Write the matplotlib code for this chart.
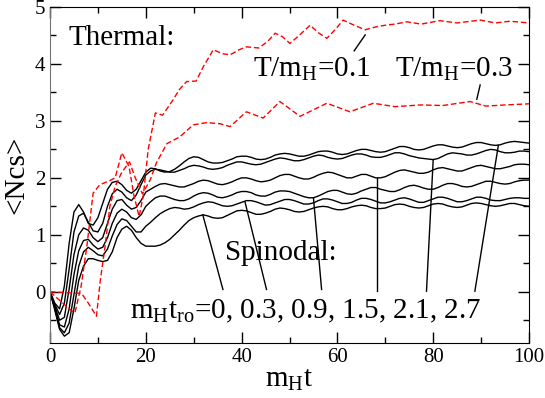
import numpy as np
import matplotlib.pyplot as plt

plt.rcParams['font.family'] = 'Liberation Serif'
plt.rcParams['mathtext.fontset'] = 'custom'
plt.rcParams['mathtext.rm'] = 'Liberation Serif'
plt.rcParams['mathtext.it'] = 'Liberation Serif'

# thermal runs (red dashed)
t_T01 = [0, 2, 4, 5.2, 6.5, 7.7, 9, 10.4, 12.5, 13.6, 15, 16.5, 17.5, 18.6, 19.5, 20.5, 22, 23.5,
         25.7, 27, 28.5, 30.5, 32, 34.1, 36, 37.6, 39.5, 41, 43.6, 45.5, 47, 48.5, 50.1, 52, 54.3,
         56, 57.8, 59.5, 61.2, 63.5, 65.8, 68, 70, 72, 74.5, 77.5, 81.4, 85, 89.8, 93, 96, 100]
N_T01 = [0, -0.15, -0.3, -0.37, 0.1, 0.8, 1.73, 1.88, 1.95, 2.0, 2.44, 2.2, 1.7, 1.32, 1.7, 2.5,
         3.14, 3.1, 3.37, 3.55, 3.69, 3.7, 3.95, 4.25, 4.18, 4.16, 4.25, 4.3, 4.28, 4.4, 4.54, 4.48,
         4.36, 4.5, 4.68, 4.55, 4.45, 4.6, 4.77, 4.68, 4.6, 4.65, 4.68, 4.7, 4.74, 4.7, 4.76, 4.72,
         4.77, 4.72, 4.75, 4.72]
t_T03 = [0, 2, 4, 6.6, 8, 9.7, 10.5, 11.5, 12.5, 13.6, 15, 16.6, 17.8, 19.3, 20.9, 22.2, 24.4,
         27.1, 29.9, 32.7, 35.5, 37.6, 41, 44.5, 48, 52.2, 57.8, 62.6, 67.5, 72, 77.4, 82, 87.7,
         91, 95, 100]
N_T03 = [0, -0.01, -0.02, -0.03, -0.2, -0.43, 0.2, 0.8, 1.5, 1.85, 2.1, 2.28, 2.0, 1.72, 1.96,
         2.26, 2.6, 2.72, 2.93, 2.97, 2.95, 2.9, 3.16, 3.05, 3.34, 3.08, 3.31, 3.16, 3.31, 3.25,
         3.28, 3.27, 3.34, 3.26, 3.28, 3.3]

# spinodal runs (black), t = 0..100 step 1
t_sp = list(range(0, 101))
N_tro00 = [0, -0.32, -0.66, -0.78, -0.72, -0.3, 0.2, 0.45, 0.58, 0.58, 0.55, 0.53, 0.55, 0.7,
           0.95, 1.1, 1.15, 1.08, 0.95, 0.85, 0.8,
           0.8, 0.8, 0.82, 0.86, 0.92, 1.0, 1.08, 1.17, 1.25, 1.3, 1.33, 1.35, 1.33, 1.3, 1.29,
           1.3, 1.34, 1.38, 1.42, 1.43, 1.42, 1.39, 1.36, 1.36, 1.38, 1.41, 1.45, 1.47, 1.46,
           1.44, 1.41, 1.4, 1.41, 1.44, 1.47, 1.49, 1.5, 1.49, 1.46, 1.44, 1.44, 1.46, 1.49,
           1.51, 1.52, 1.51, 1.48, 1.46, 1.46, 1.47, 1.5, 1.53, 1.54, 1.53, 1.5, 1.48, 1.47,
           1.48, 1.51, 1.54, 1.55, 1.54, 1.51, 1.49, 1.48, 1.49, 1.52, 1.55, 1.56, 1.55, 1.53,
           1.51, 1.5, 1.51, 1.53, 1.55, 1.55, 1.53, 1.51, 1.5]
N_tro03 = [0, -0.3, -0.63, -0.72, -0.55, -0.05, 0.45, 0.7, 0.78, 0.72, 0.65, 0.63, 0.75, 0.98,
           1.18, 1.28, 1.25, 1.15, 1.05, 1.05, 1.15,
           1.22, 1.3, 1.37, 1.42, 1.46, 1.48, 1.47, 1.45, 1.46, 1.49, 1.53, 1.56, 1.58, 1.57,
           1.54, 1.51, 1.5, 1.51, 1.54, 1.57, 1.6, 1.6, 1.58, 1.55, 1.52, 1.53, 1.56, 1.59, 1.62,
           1.62, 1.6, 1.57, 1.54, 1.54, 1.56, 1.6, 1.63, 1.63, 1.61, 1.58, 1.55, 1.55, 1.57,
           1.61, 1.64, 1.64, 1.62, 1.59, 1.56, 1.56, 1.58, 1.61, 1.64, 1.65, 1.63, 1.6, 1.57,
           1.57, 1.6, 1.63, 1.66, 1.66, 1.64, 1.61, 1.58, 1.58, 1.6, 1.63, 1.66, 1.66, 1.64,
           1.61, 1.6, 1.6, 1.62, 1.64, 1.65, 1.65, 1.64, 1.64]
N_tro09 = [0, -0.28, -0.58, -0.62, -0.3, 0.3, 0.72, 0.9, 0.92, 0.82, 0.75, 0.78, 0.95, 1.2,
           1.38, 1.45, 1.4, 1.3, 1.27, 1.35, 1.5,
           1.58, 1.65, 1.68, 1.68, 1.65, 1.62, 1.6, 1.6, 1.63, 1.68, 1.72, 1.74, 1.73, 1.7,
           1.66, 1.65, 1.67, 1.7, 1.74, 1.76, 1.76, 1.74, 1.7, 1.68, 1.68, 1.71, 1.75, 1.77,
           1.77, 1.76, 1.73, 1.7, 1.67, 1.65, 1.65, 1.68, 1.72, 1.76, 1.78, 1.78, 1.75, 1.72,
           1.71, 1.73, 1.77, 1.8, 1.83, 1.83, 1.8, 1.78, 1.76, 1.76, 1.79, 1.83, 1.86, 1.87,
           1.85, 1.82, 1.8, 1.8, 1.83, 1.87, 1.9, 1.9, 1.88, 1.85, 1.84, 1.85, 1.88, 1.91, 1.94,
           1.94, 1.92, 1.9, 1.89, 1.9, 1.93, 1.95, 1.96, 1.96]
N_tro15 = [0, -0.25, -0.5, -0.45, 0.05, 0.65, 1.0, 1.12, 1.08, 0.95, 0.88, 0.95, 1.2, 1.45,
           1.6, 1.62, 1.52, 1.45, 1.48, 1.6, 1.75,
           1.8, 1.85, 1.89, 1.9, 1.88, 1.86, 1.84, 1.84, 1.87, 1.9, 1.94, 1.96, 1.95, 1.92,
           1.89, 1.88, 1.9, 1.93, 1.97, 2.0, 2.0, 1.98, 1.95, 1.93, 1.94, 1.96, 2.0, 2.04, 2.06,
           2.06, 2.03, 2.0, 1.98, 1.98, 2.01, 2.05, 2.08, 2.1, 2.09, 2.06, 2.03, 2.0, 2.0, 2.03,
           2.06, 2.06, 2.03, 2.0, 2.0, 2.02, 2.06, 2.1, 2.13, 2.14, 2.12, 2.1, 2.08, 2.08, 2.1,
           2.14, 2.17, 2.18, 2.16, 2.14, 2.12, 2.12, 2.15, 2.18, 2.21, 2.22, 2.2, 2.18, 2.16,
           2.16, 2.18, 2.2, 2.23, 2.24, 2.24, 2.23]
N_tro21 = [0, -0.22, -0.4, -0.2, 0.4, 1.05, 1.33, 1.38, 1.22, 1.07, 1.05, 1.2, 1.5, 1.72, 1.8,
           1.75, 1.65, 1.6, 1.7, 1.88, 2.05,
           2.12, 2.15, 2.14, 2.12, 2.1, 2.1, 2.13, 2.16, 2.2, 2.22, 2.21, 2.19, 2.16, 2.15, 2.16,
           2.18, 2.22, 2.25, 2.28, 2.28, 2.26, 2.24, 2.23, 2.24, 2.27, 2.3, 2.33, 2.35, 2.34,
           2.32, 2.3, 2.3, 2.32, 2.35, 2.38, 2.4, 2.39, 2.36, 2.34, 2.33, 2.34, 2.37, 2.4, 2.42,
           2.42, 2.4, 2.37, 2.36, 2.36, 2.38, 2.41, 2.44, 2.44, 2.42, 2.39, 2.37, 2.35, 2.34,
           2.33, 2.32, 2.34, 2.38, 2.42, 2.44, 2.43, 2.42, 2.4, 2.4, 2.42, 2.45, 2.48, 2.5, 2.49,
           2.46, 2.44, 2.44, 2.45, 2.47, 2.47, 2.46]
N_tro27 = [0, -0.2, -0.3, 0.1, 0.85, 1.4, 1.53, 1.4, 1.2, 1.17, 1.3, 1.55, 1.8, 1.92, 1.94, 1.88,
           1.78, 1.73, 1.8, 1.95, 2.1,
           2.17, 2.16, 2.12, 2.1, 2.11, 2.15, 2.21, 2.28, 2.34, 2.37, 2.36, 2.32, 2.28, 2.26,
           2.26, 2.27, 2.3, 2.33, 2.37, 2.38, 2.38, 2.36, 2.33, 2.32, 2.33, 2.36, 2.4, 2.42,
           2.43, 2.42, 2.4, 2.38, 2.38, 2.4, 2.43, 2.46, 2.47, 2.47, 2.45, 2.42, 2.41, 2.42,
           2.45, 2.48, 2.5, 2.5, 2.48, 2.46, 2.45, 2.46, 2.49, 2.52, 2.55, 2.55, 2.53, 2.5, 2.49,
           2.5, 2.53, 2.56, 2.58, 2.58, 2.56, 2.54, 2.53, 2.54, 2.57, 2.6, 2.62, 2.62, 2.6, 2.58,
           2.57, 2.58, 2.61, 2.63, 2.64, 2.63, 2.62, 2.61]
spinodal = [N_tro00, N_tro03, N_tro09, N_tro15, N_tro21, N_tro27]

# label pointers: (label end) -> (curve point)
ptr_thermal = [((63.5, 4.23), (65.8, 4.51)), ((89.1, 3.38), (89.8, 3.63))]
ptr_spin = [((36.1, 0.04), (31.9, 1.35)), ((45.2, 0.04), (40.7, 1.58)),
            ((56.7, 0.04), (55.0, 1.65)), ((68.2, 0.01), (68.2, 2.0)),
            ((78.6, 0.01), (80.0, 2.32)), ((88.7, 0.01), (93.6, 2.57))]

fig = plt.figure(figsize=(5.45, 3.98), dpi=100)
ax = fig.add_axes([50 / 545, 1 - 343 / 398, 479 / 545, 336 / 398])

for N in spinodal:
    ax.plot(t_sp, N, color='black', lw=1.0)
ax.plot(t_T01, N_T01, color='red', lw=1.0, ls=(0, (4, 2)))
ax.plot(t_T03, N_T03, color='red', lw=1.0, ls=(0, (4, 2)))

for (a, b) in ptr_thermal + ptr_spin:
    ax.plot([a[0], b[0]], [a[1], b[1]], color='black', lw=1.0)

big = 21
ax.text(3.8, 4.45, 'Thermal:', fontsize=big, va='center')
ax.text(42.4, 3.77, r'T/m$_\mathrm{H}$=0.1', fontsize=big, va='baseline')
ax.text(72.0, 3.77, r'T/m$_\mathrm{H}$=0.3', fontsize=big, va='baseline')
ax.text(36.5, 0.56, 'Spinodal:', fontsize=big, va='baseline')
ax.text(16.7, -0.46, r'm$_\mathrm{H}$t$_\mathrm{ro}$=0, 0.3, 0.9, 1.5, 2.1, 2.7',
        fontsize=big, va='baseline')

ax.set_xlim(0, 100)
ax.set_ylim(-0.9, 5)
ax.set_xticks(np.arange(0, 101, 20))
ax.set_xticks(np.arange(0, 101, 10), minor=True)
ax.set_yticks(np.arange(0, 6, 1))
ax.set_yticks(np.arange(-0.5, 5, 0.5), minor=True)
ax.tick_params(which='both', direction='in', top=True, right=True, labelsize=15, width=1)
ax.tick_params(which='major', length=8)
ax.tick_params(which='minor', length=4)
ax.set_xlabel(r'm$_\mathrm{H}$t', fontsize=big, labelpad=0)
ax.set_ylabel('<Ncs>', fontsize=big, labelpad=4)
ax.spines['left'].set_color('0.45')

fig.savefig('out.png', dpi=100)
